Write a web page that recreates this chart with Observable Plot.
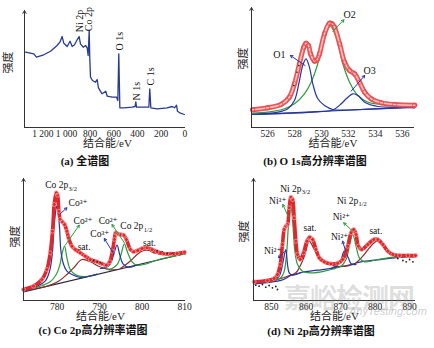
<!DOCTYPE html>
<html><head><meta charset="utf-8">
<script src="https://cdn.jsdelivr.net/npm/d3@7"></script>
<script src="https://cdn.jsdelivr.net/npm/@observablehq/plot@0.6"></script>
<style>
body{margin:0;background:#fff;}
#root{position:relative;width:434px;height:348px;overflow:hidden;background:#fff;font-family:'Liberation Serif','Noto Sans CJK SC',serif;}
.pnl{position:absolute;width:217px;height:174px;}
.pnl svg{overflow:visible;}
.cap{position:absolute;transform:translateX(-50%);white-space:nowrap;font-weight:bold;font-size:11px;line-height:13px;color:#111;}
.wm1{position:absolute;left:284px;top:277px;font-size:27px;color:rgba(140,140,140,0.28);font-family:'Noto Sans CJK SC',sans-serif;font-weight:bold;letter-spacing:-1px;white-space:nowrap;}
.wm2{position:absolute;left:349px;top:305px;font-size:11px;color:rgba(140,140,140,0.45);font-style:italic;font-family:'Liberation Sans',sans-serif;white-space:nowrap;}
</style></head><body><div id="root">
<div class="pnl" id="pa" style="left:0;top:0"></div>
<div class="pnl" id="pb" style="left:217px;top:0"></div>
<div class="pnl" id="pc" style="left:0;top:174px"></div>
<div class="pnl" id="pd" style="left:217px;top:174px"></div>
<div class="cap" style="left:85px;top:155px">(a) 全谱图</div>
<div class="cap" style="left:315px;top:155px">(b) O 1s高分辨率谱图</div>
<div class="cap" style="left:93px;top:324px">(c) Co 2p高分辨率谱图</div>
<div class="cap" style="left:321px;top:325px">(d) Ni 2p高分辨率谱图</div>
<div class="wm1">嘉峪检测网</div>
<div class="wm2">AnyTesting.com</div>
</div>
<script>
// ---------- data ----------
// (a) survey
const surveyTicks = [1200, 1000, 800, 600, 400, 200, 0];
const surveyTickLabels = ["1 200", "1 000", "800", "600", "400", "200", "0"];
const survey = [[1346,75.3],[1276,73.7],[1254,70.3],[1192,72.7],[1135,76.3],[1079,82],[1056,85.3],[1037,91],[1023,84.3],[994,81],[970,86.3],[952,81],[932,82.7],[910,87.7],[893,91],[882,83.7],[859,80.3],[839,82],[825,79.7],[817,72],[808,97],[803,68.7],[797,50.3],[780,47],[755,45.3],[741,48],[730,39.7],[699,33.7],[668,36.3],[656,31.3],[614,30.3],[577,30.3],[566,27],[558,73.7],[549,19.7],[515,19.7],[445,20.3],[420,21],[414,25.7],[408,20.3],[346,20.3],[304,20.3],[296,38.7],[287,19.7],[234,18.7],[149,19.7],[107,21],[87,19.7],[70,22.3],[62,16.3],[37,14.3],[3,13]];
const surveyLabels = [{t:"Ni 2p",x:884,y:95.3},{t:"Co 2p",x:808,y:96.3},{t:"O 1s",x:549,y:77},{t:"N 1s",x:408,y:27},{t:"C 1s",x:290,y:42}];

// (b) O 1s
const o1sTicks = [526, 528, 530, 532, 534, 536];
const o1sBg = [[524.88,13],[536.92,20.3]];
const o1sO1 = [[524.88,13.2],[526.75,15.3],[527.49,18.7],[527.99,27],[528.36,47],[528.6,62],[528.85,68.7],[529.1,60.3],[529.35,43.7],[529.72,28.7],[530.22,22],[530.84,18],[531.71,17.5],[533.45,18.3],[536.92,20.3]];
const o1sO2 = [[524.88,14.3],[526.0,15.3],[527.24,18.7],[527.99,23.7],[528.73,33.7],[529.23,45.3],[529.72,63.7],[530.22,90.3],[530.64,101],[531.09,90.3],[531.58,63.7],[532.08,45.3],[532.7,32],[533.45,25.3],[534.69,23],[536.92,21.7]];
const o1sO3 = [[524.88,13],[529.72,15.7],[530.84,17.5],[531.46,23.7],[531.83,28.7],[532.33,33.7],[532.7,32],[533.2,25.3],[534.19,21],[535.43,20.3],[536.92,19.7]];
const o1sEnv = [[524.88,17.7],[526.0,19.7],[526.99,23],[527.61,30.3],[527.99,43.7],[528.36,63.7],[528.68,80.3],[528.85,84.3],[529.03,82],[529.18,73.7],[529.48,66.3],[529.67,67.7],[529.85,73.7],[530.22,93.7],[530.59,104.3],[530.79,103.7],[530.96,100.3],[531.34,83.7],[531.71,65.3],[532.08,57],[532.45,53.7],[532.82,45.3],[533.2,35.3],[533.69,28.7],[534.44,24.7],[535.43,23],[536.92,22.3]];
const o1sRaw = [[527.93,42],[528.18,55.3],[528.31,62]];
const o1sLabels = [{t:"O1",x:526.87,y:73},{t:"O2",x:532.08,y:113},{t:"O3",x:533.57,y:56.3}];
const o1sArrowsBlue = [{x1:528.78,y1:62,x2:527.69,y2:72},{x1:532.2,y1:36.3,x2:533.2,y2:52}];
const o1sArrowsGreen = [{x1:530.84,y1:96.3,x2:531.66,y2:107.7}];

// (c) Co 2p
const coTicks = [780, 790, 800, 810];
const coBg = [[772.1,8.7],[810.2,47]];
const coEnv = [[772.1,11],[774.46,14.3],[776.42,21],[777.6,31],[778.38,47.7],[778.93,69.3],[779.33,96],[779.8,107.7],[780.11,105.3],[780.43,89.3],[780.74,81],[781.21,78.7],[781.76,76],[782.31,69.3],[782.7,62.7],[783.49,54.3],[784.28,51],[785.45,47.7],[786.63,44.3],[787.81,41],[789.38,38.7],[790.56,36.7],[791.58,35.3],[792.37,38.7],[793.0,49.3],[793.47,61],[793.78,67.7],[794.25,66.7],[794.88,66],[795.67,65.3],[796.3,61],[797.24,51],[798.02,48.7],[798.97,50],[799.99,52],[801.17,52.7],[802.34,51],[803.52,48.7],[805.09,46.7],[806.66,46.7],[808.23,47],[809.96,48.3]];
const co3a = [[772.1,9.3],[775.24,14.3],[777.2,19.3],[778.23,29.3],[778.86,46],[779.33,76],[779.8,92.7],[779.96,94.3],[780.27,87.7],[780.58,72.7],[780.9,49.3],[781.53,36],[782.31,29.3],[783.49,26],[785.45,23],[787.81,24.5],[789.38,26.1]];
const co2a = [[772.1,9.3],[778.38,18.7],[779.8,26],[780.58,34.3],[781.13,46],[781.76,54.3],[782.31,42.7],[783.1,31],[784.28,26],[786.24,23.8],[789.38,26.5]];
const coSatA = [[772.1,10],[777.6,14.3],[780.35,19.3],[782.31,26],[783.88,32.7],[785.85,41],[787.81,38.7],[789.77,34.3],[791.35,32],[792.52,30.7],[794.1,31]];
const co3b = [[790.17,32],[791.35,32.7],[792.52,36.7],[793.31,46],[794.1,55.3],[794.72,46],[795.51,36.7],[796.84,33.3],[798.81,35.5]];
const co2b = [[791.74,31],[792.92,32],[794.25,36.7],[795.04,46],[795.82,56.7],[796.61,47.7],[797.63,38.7],[798.81,35.3],[800.38,36],[804.3,41.5],[810.2,46.7]];
const coSatB = [[794.88,32],[796.45,36.7],[797.63,41],[798.81,46],[800.38,50],[801.56,50],[802.74,47.7],[805.88,46],[810.2,46.7]];
const coRaw = [[788.6,40],[789.5,38.7],[790.17,37.7],[803.52,50],[804.7,48.7],[805.88,47.3],[807.06,47.3]];
const coLabels = [{t:"Co 2p",x:777.2,y:115.3},{t:"Co³⁺",x:782.7,y:97.7},{t:"Co²⁺",x:783.88,y:79.3},{t:"sat.",x:784.83,y:53.3},{t:"Co²⁺",x:789.77,y:80},{t:"Co³⁺",x:787.81,y:66.7},{t:"Co 2p",x:794.88,y:74.3},{t:"sat.",x:800.22,y:57.7}];
const coSubs = [{t:"3/2",x:782.7,y:111.5},{t:"1/2",x:800.4,y:70.5}];
const coArrowsBlue = [{x1:780.74,y1:86.7,x2:782.31,y2:92.7},{x1:793.31,y1:46.7,x2:791.11,y2:62}];
const coArrowsGreen = [{x1:781.92,y1:55.3,x2:785.22,y2:75.3},{x1:795.82,y1:57.7,x2:792.92,y2:76}];

// (d) Ni 2p
const niTicks = [850, 860, 870, 880, 890];
const niBg = [[844.97,16.7],[851.74,19.3],[853.68,21.3],[855.61,25],[858.52,28],[863.36,30.3],[868.2,32.7],[873.04,36],[875.94,38.7],[880.78,40.7],[885.62,42.7],[891.72,44]];
const niEnv = [[844.97,18.7],[848.84,20],[850.77,22],[851.74,26],[852.52,36],[853.19,56],[853.68,71],[854.16,74.3],[854.65,76],[855.13,92.7],[855.61,103.3],[856.1,101],[856.58,82.7],[857.07,59.3],[857.55,46],[858.33,41],[859.29,47.7],[860.26,59.3],[861.04,63.3],[861.91,61],[862.88,51],[863.84,42.7],[865.3,38.7],[867.23,36.7],[869.17,37.3],[870.62,41],[872.07,54.3],[873.04,67.7],[873.81,71],[874.49,66],[875.17,54.3],[876.14,51],[877.88,56],[879.62,61],[880.78,61],[882.24,56],[883.69,49.3],[885.14,46],[887.08,45],[889.5,45],[891.72,45]];
const ni2a = [[850.77,20],[852.23,24.3],[852.9,31],[853.48,41],[854.16,51],[854.65,36],[855.13,27.7],[856.1,25.3],[858.52,27.7]];
const ni3a = [[848.84,18.7],[852.71,22.7],[853.68,29.3],[854.36,46],[854.94,76],[855.61,96],[856.2,76],[856.78,49.3],[857.55,36],[859.0,29.3],[861.42,27.7],[865.3,29.3],[868.2,31.7]];
const niSatA = [[848.84,17.7],[854.65,24.3],[857.07,27.7],[858.52,36],[859.68,46],[860.94,59.3],[862.39,51],[863.84,42.7],[865.78,37.7],[868.2,34.3],[871.1,34.3]];
const ni2b = [[867.23,32],[869.17,35.3],[870.14,41],[871.1,49.3],[872.27,42.7],[873.04,36.7],[874.49,36]];
const ni3b = [[868.2,32],[870.14,34.3],[871.59,41],[872.56,54.3],[873.52,66],[874.49,54.3],[875.46,42.7],[876.91,38.7],[880.78,41],[885.62,43.3],[891.72,44.7]];
const niSatB = [[871.1,34],[874.01,36.7],[876.43,44.3],[878.36,52.7],[880.59,59.3],[882.72,54.3],[884.66,47.7],[887.56,44.3],[891.72,43.7]];
const niRaw = [[845.45,15.3],[846.42,14.3],[847.39,16],[848.35,13.3],[849.32,15],[850.29,12.7],[851.26,14],[851.74,11],[886.59,42],[888.05,40],[889.01,38.7],[889.98,41],[890.95,38.7]];
const niLabels = [{t:"Ni 2p",x:852.52,y:112},{t:"Ni³⁺",x:849.32,y:100},{t:"Ni²⁺",x:847.87,y:49.3},{t:"sat.",x:859.29,y:72.7},{t:"Ni 2p",x:868.97,y:100},{t:"Ni²⁺",x:867.72,y:83.3},{t:"Ni²⁺",x:867.23,y:63.3},{t:"sat.",x:878.36,y:70}];
const niSubs = [{t:"3/2",x:858.8,y:108.5},{t:"1/2",x:875.2,y:96.5}];
const niArrowsGreen = [{x1:854.94,y1:83.3,x2:853.29,y2:96},{x1:873.52,y1:69.3,x2:870.91,y2:77.7}];
const niArrowsBlue = [{x1:853.68,y1:48.7,x2:852.03,y2:42.7},{x1:871.39,y1:50,x2:870.62,y2:59.3}];

// ---------- styles ----------
const FONT = "'Liberation Serif','Noto Sans CJK SC','DejaVu Serif',serif";
const NAVY = "#283b8e", RED = "#e3262b", PINK = "#f7c4c4", BLUE = "#26369c", GREEN = "#2f9a3c", BROWN = "#8a2b2b", BGDARK = "#2b2540";
const X = d => d[0], Y = d => d[1];

function panel(cfg) {
  const {xd, yd, ml, mr, mt, mb, ticks, tickLabels, marks, xdx, ydx, ydy} = cfg;
  const fmt = new Map(ticks.map((t, i) => [t, tickLabels ? tickLabels[i] : String(t)]));
  return Plot.plot({
    width: 217, height: 150,
    marginLeft: ml, marginRight: mr, marginTop: mt, marginBottom: mb,
    x: {domain: xd, ticks, tickSize: 0, tickPadding: 3, tickFormat: d => fmt.get(d), label: null},
    y: {domain: yd, axis: null},
    style: {fontFamily: FONT, fontSize: "9.5px", color: "#222", background: "transparent", overflow: "visible"},
    marks: [
      ...marks,
      Plot.ruleY([yd[0]], {stroke: "#333", strokeWidth: 1}),
      Plot.arrow([0], {x1: () => xd[0], x2: () => xd[0], y1: () => yd[0], y2: () => yd[1], stroke: "#333", strokeWidth: 1, headLength: 5}),
      Plot.text(["结合能/eV"], {frameAnchor: "bottom", dy: 19, dx: xdx, fontSize: 11, fill: "#222"}),
      Plot.text(["强度"], {frameAnchor: "left", rotate: -90, dx: ydx, dy: ydy, fontSize: 11, fill: "#222"})
    ]
  });
}
const line = (data, stroke, w, curve = "catmull-rom") => Plot.line(data, {x: X, y: Y, stroke, strokeWidth: w, curve});
const arrows = (data, stroke) => Plot.arrow(data, {x1: "x1", y1: "y1", x2: "x2", y2: "y2", stroke, strokeWidth: 1, headLength: 4});
const labels = (data, anchor = "start", size = 9.5) => Plot.text(data, {x: "x", y: "y", text: "t", textAnchor: anchor, fontSize: size, fill: "#111"});
const subs = (data) => Plot.text(data, {x: "x", y: "y", text: "t", textAnchor: "start", fontSize: 6.5, fill: "#111"});

// (a)
document.getElementById("pa").append(panel({
  xd: [1355, -6], yd: [0, 117], ml: 24, mr: 32, mt: 10, mb: 23,
  ticks: surveyTicks, tickLabels: surveyTickLabels, xdx: 2.5, ydx: -16, ydy: 4.5,
  marks: [
    line(survey, NAVY, 1.3, "linear"),
    Plot.text(surveyLabels, {x: "x", y: "y", text: "t", rotate: -90, textAnchor: "start", fontSize: 10, fill: "#111"})
  ]
}));

// (b)
document.getElementById("pb").append(panel({
  xd: [524.8, 536.9], yd: [0, 120], ml: 34, mr: 20, mt: 7, mb: 23,
  ticks: o1sTicks, xdx: 0, ydx: -8, ydy: 2,
  marks: [
    line(o1sBg, BLUE, 1.2, "linear"),
    line(o1sO2, GREEN, 1.2),
    line(o1sO1, BLUE, 1.2),
    line(o1sO3, BLUE, 1.2),
    line(o1sEnv, "#ea5555", 5),
    line(o1sEnv, PINK, 1.6),
    Plot.dot(o1sEnv, {x: X, y: Y, r: 2.2, stroke: "#e8484b", strokeWidth: 0.8, fill: "none"}),
    Plot.dot(o1sRaw, {x: X, y: Y, r: 0.8, fill: "#222"}),
    arrows(o1sArrowsBlue, BLUE),
    arrows(o1sArrowsGreen, GREEN),
    labels(o1sLabels, "middle", 10)
  ]
}));

// (c)
document.getElementById("pc").append(panel({
  xd: [772.1, 810.2], yd: [0, 122], ml: 23, mr: 32, mt: 4, mb: 24,
  ticks: coTicks, xdx: -4, ydx: -8, ydy: 8,
  marks: [
    line(coBg, BGDARK, 1.2, "linear"),
    line(coSatA, BROWN, 1.2),
    line(coSatB, BROWN, 1.2),
    line(co2a, GREEN, 1.2),
    line(co2b, GREEN, 1.2),
    line(co3a, BLUE, 1.2),
    line(co3b, BLUE, 1.2),
    line(coEnv, RED, 3.6),
    Plot.dot(coEnv, {x: X, y: Y, r: 2, stroke: "#f29a9a", strokeWidth: 0.8, fill: "none"}),
    Plot.dot(coRaw, {x: X, y: Y, r: 0.8, fill: "#222"}),
    arrows(coArrowsBlue, BLUE),
    arrows(coArrowsGreen, GREEN),
    labels(coLabels),
    subs(coSubs)
  ]
}));

// (d)
document.getElementById("pd").append(panel({
  xd: [844.8, 891.7], yd: [0, 122], ml: 36, mr: 19, mt: 4, mb: 24,
  ticks: niTicks, xdx: 0, ydx: -9, ydy: 3,
  marks: [
    line(niBg, BLUE, 1.2),
    line(niSatA, BROWN, 1.2),
    line(niSatB, BROWN, 1.2),
    line(ni3a, GREEN, 1.2),
    line(ni3b, GREEN, 1.2),
    line(ni2a, BLUE, 1.2),
    line(ni2b, BLUE, 1.2),
    Plot.dot(niRaw, {x: X, y: Y, r: 0.9, fill: "#222"}),
    line(niEnv, RED, 3.6),
    Plot.dot(niEnv, {x: X, y: Y, r: 2, stroke: "#f29a9a", strokeWidth: 0.8, fill: "none"}),
    arrows(niArrowsBlue, BLUE),
    arrows(niArrowsGreen, GREEN),
    labels(niLabels),
    subs(niSubs)
  ]
}));
</script></body></html>
